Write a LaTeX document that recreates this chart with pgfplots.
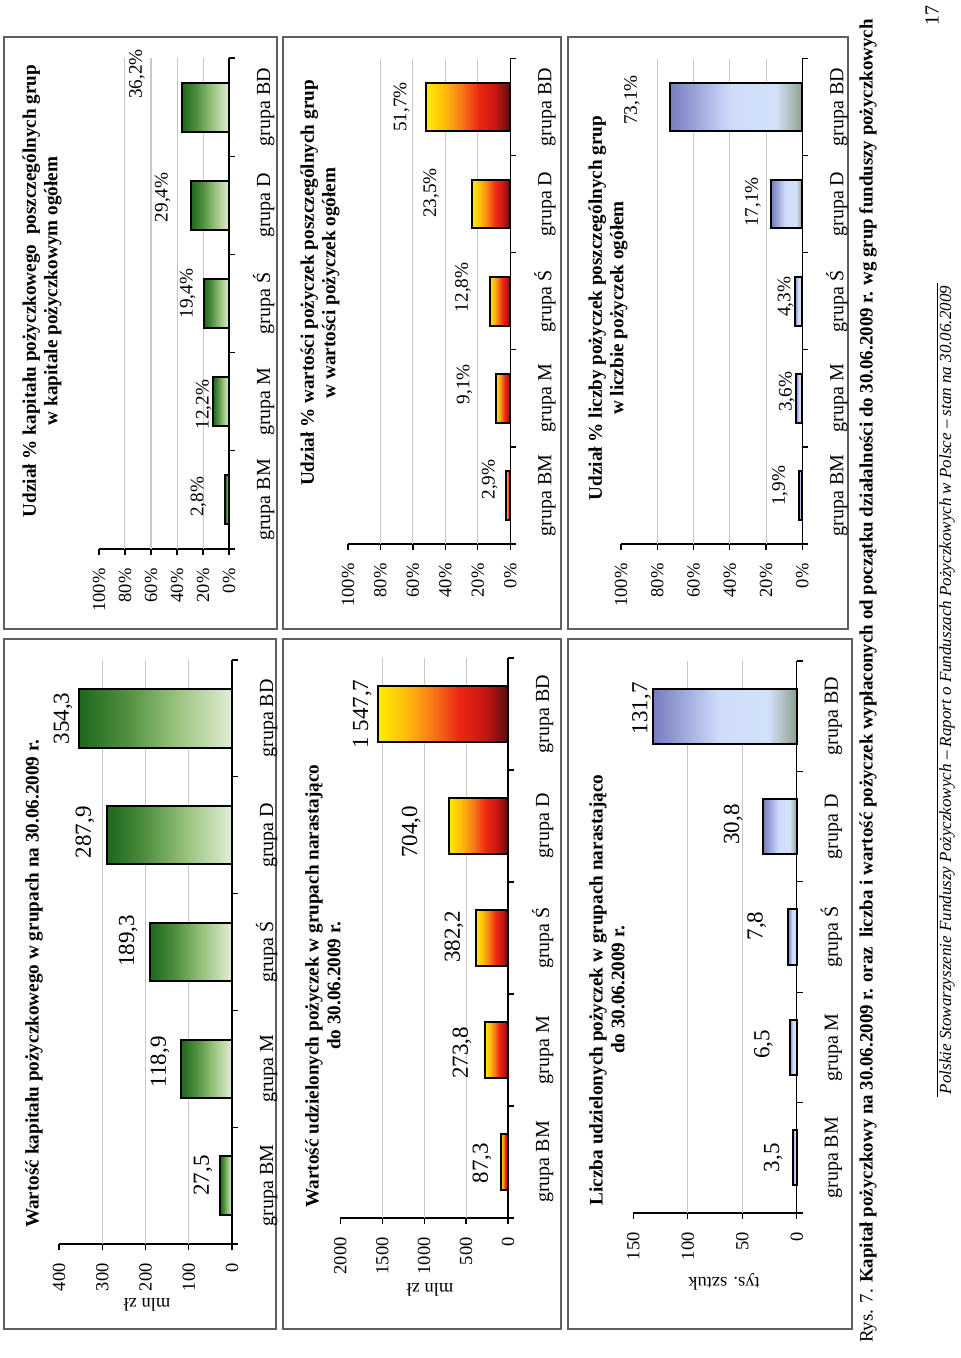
\documentclass[border=0pt]{standalone}
\usepackage{fontspec}
\setmainfont{Liberation Serif}
\usepackage{pgfplots}
\usepackage{pgfplotstable}
\pgfplotsset{compat=1.18}

\definecolor{framec}{RGB}{95,95,95}
\definecolor{gridc}{RGB}{200,200,200}
% green gradient
\definecolor{gA}{RGB}{28,104,28}
\definecolor{gB}{RGB}{78,142,62}
\definecolor{gC}{RGB}{150,192,122}
\definecolor{gD}{RGB}{226,237,213}
% red gradient
\definecolor{rA}{RGB}{255,236,0}
\definecolor{rB}{RGB}{253,186,12}
\definecolor{rC}{RGB}{247,120,22}
\definecolor{rD}{RGB}{238,40,20}
\definecolor{rE}{RGB}{200,22,20}
\definecolor{rF}{RGB}{90,14,14}
% blue gradient
\definecolor{bA}{RGB}{118,124,190}
\definecolor{bB}{RGB}{168,178,226}
\definecolor{bC}{RGB}{206,220,250}
\definecolor{bD}{RGB}{210,225,250}
\definecolor{bE}{RGB}{170,186,186}
\definecolor{bF}{RGB}{140,160,140}

\pgfdeclarehorizontalshading{greenbar}{100bp}{color(0bp)=(gA); color(25bp)=(gA); color(40bp)=(gB); color(56bp)=(gC); color(75bp)=(gD); color(100bp)=(gD)}
\pgfdeclarehorizontalshading{redbar}{100bp}{color(0bp)=(rA); color(25bp)=(rA); color(36bp)=(rB); color(46bp)=(rC); color(56bp)=(rD); color(66bp)=(rE); color(75bp)=(rF); color(100bp)=(rF)}
\pgfdeclarehorizontalshading{bluebar}{100bp}{color(0bp)=(bA); color(25bp)=(bA); color(38bp)=(bB); color(48bp)=(bC); color(65bp)=(bD); color(71bp)=(bE); color(75bp)=(bF); color(100bp)=(bF)}

\pgfplotsset{
  /pgf/number format/.cd, use comma, 1000 sep={}, assume math mode=true,
  /pgfplots/.cd,
  basechart/.style={
    xbar, bar shift=0pt, scale only axis, x dir=reverse, anchor=south west,
    xmin=0, ymin=-0.5, ymax=4.5,
    ytick={-0.5,0.5,1.5,2.5,3.5,4.5},
    y tick label as interval,
    yticklabels={grupa BM,grupa M,grupa Ś,grupa D,grupa BD},
    axis x line*=bottom, axis y line*=right,
    tick align=outside, major tick length=3pt,
    every tick/.style={black, line width=0.6pt},
    axis line style={black, line width=0.7pt},
    xticklabel style={rotate=90, anchor=east, font=\fontsize{9.25}{10}\selectfont, inner sep=1pt},
    yticklabel style={rotate=90, anchor=north, font=\fontsize{10}{11}\selectfont, inner sep=1pt, text height=1.6ex, text depth=0.5ex},
    xticklabel shift=5.5pt, yticklabel shift=9pt,
    bar width=0.5,
    extra x tick labels={},
    extra x tick style={grid=major},
    major grid style={gridc, line width=0.5pt},
    clip=false,
  },
  pctchart/.style={basechart, xmax=100, xtick={0,20,40,60,80,100},
    extra x ticks={20,40,60,80},
    xticklabel={\pgfmathprintnumber{\tick}\%}},
  absbars/.style={draw=black, line width=1pt, shade, shading=#1,
    point meta=x,
    nodes near coords={\pgfmathprintnumber[fixed,fixed zerofill,precision=1,1000 sep={\ }]{\pgfplotspointmeta}},
    visualization depends on={\thisrow{dx} \as \dx},
    visualization depends on={\thisrow{dy} \as \dy},
    every node near coord/.append style={anchor=center, xshift={(\dx)*0.5pt}, yshift={-1*(\dy)*0.5pt}, rotate=90, font=\fontsize{11.5}{12}\selectfont, text=black, inner sep=0pt}},
  pctbars/.style={draw=black, line width=1pt, shade, shading=#1,
    point meta=x,
    nodes near coords={\pgfmathprintnumber[fixed,fixed zerofill,precision=1]{\pgfplotspointmeta}\%},
    visualization depends on={\thisrow{dx} \as \dx},
    visualization depends on={\thisrow{dy} \as \dy},
    every node near coord/.append style={anchor=center, xshift={(\dx)*0.5pt}, yshift={-1*(\dy)*0.5pt}, rotate=90, font=\fontsize{9.6}{10}\selectfont, text=black, inner sep=0pt}},
}

% y: 0=grupa BM, 1=grupa M, 2=grupa Ś, 3=grupa D, 4=grupa BD ; dx, dy = label offset in px
\pgfplotstableread{
y v dx dy
0 27.5 -17 -10
1 118.9 -20.6 -7
2 189.3 -22 -11
3 287.9 -22.5 -3
4 354.3 -15.8 0
}\kapital
\pgfplotstableread{
y v dx dy
0 2.8 -27 -3
1 12.2 -9.5 3
2 19.4 -16 -10
3 29.4 -28 -8
4 36.2 -45 -33
}\kapitalpct
\pgfplotstableread{
y v dx dy
0 87.3 -18.7 1
1 273.8 -23 3
2 382.2 -22 -1
3 704.0 -37.7 6
4 1547.7 -16 0
}\wartosc
\pgfplotstableread{
y v dx dy
0 2.9 -16 -16
1 9.1 -31 -14
2 12.8 -26.5 -14
3 23.5 -41 -11
4 51.7 -25 0
}\wartoscpct
\pgfplotstableread{
y v dx dy
0 3.5 -19.6 0
1 6.5 -26 -3
2 7.8 -31.5 -11
3 30.8 -30 -2
4 131.7 -11.6 -8
}\liczba
\pgfplotstableread{
y v dx dy
0 1.9 -19 -9.5
1 3.6 -9 -6.4
2 4.3 -9 -4.3
3 17.1 -18.3 -2
4 73.1 -37.8 -7
}\liczbapct

\begin{document}
\begin{tikzpicture}[x=0.5pt,y=-0.5pt]
\fill[white] (0,0) rectangle (960,1358);
% panel frames
\begin{scope}[framec, line width=0.75pt]
\draw (4,37) rectangle (277,629);
\draw (283,37) rectangle (561,629);
\draw (568,37) rectangle (848,629);
\draw (4,639) rectangle (276,1329);
\draw (283,639) rectangle (561,1329);
\draw (568,639) rectangle (852,1329);
\end{scope}

\coordinate (a1) at (59,1244);
\coordinate (a2) at (340.3,1218);
\coordinate (a3) at (633.3,1213);
\coordinate (b1) at (99,549);
\coordinate (b2) at (348,544);
\coordinate (b3) at (621,544);

% ---- Wartość kapitału
\begin{axis}[basechart, at={(a1)}, width=86.5pt, height=292pt,
  xmax=400, xtick={0,100,200,300,400}, extra x ticks={100,200,300}]
\pgfplotsinvokeforeach{0,...,4}{
\addplot[absbars=greenbar, restrict y to domain=#1:#1] table[x=v,y=y]{\kapital};
}
\end{axis}
% ---- Wartość pożyczek
\begin{axis}[basechart, at={(a2)}, width=83.85pt, height=280pt,
  xmax=2000, xtick={0,500,1000,1500,2000}, extra x ticks={500,1000,1500}]
\pgfplotsinvokeforeach{0,...,4}{
\addplot[absbars=redbar, restrict y to domain=#1:#1] table[x=v,y=y]{\wartosc};
}
\end{axis}
% ---- Liczba pożyczek
\begin{axis}[basechart, at={(a3)}, width=81.7pt, height=276pt,
  xmax=150, xtick={0,50,100,150}, extra x ticks={50,100}]
\pgfplotsinvokeforeach{0,...,4}{
\addplot[absbars=bluebar, restrict y to domain=#1:#1] table[x=v,y=y]{\liczba};
}
\end{axis}
% ---- Udział kapitału
\begin{axis}[pctchart, at={(b1)}, width=65pt, height=245.5pt]
\pgfplotsinvokeforeach{0,...,4}{
\addplot[pctbars=greenbar, restrict y to domain=#1:#1] table[x=v,y=y]{\kapitalpct};
}
\end{axis}
% ---- Udział wartości
\begin{axis}[pctchart, at={(b2)}, width=81.15pt, height=242.75pt]
\pgfplotsinvokeforeach{0,...,4}{
\addplot[pctbars=redbar, restrict y to domain=#1:#1] table[x=v,y=y]{\wartoscpct};
}
\end{axis}
% ---- Udział liczby
\begin{axis}[pctchart, at={(b3)}, width=90.65pt, height=242.75pt]
\pgfplotsinvokeforeach{0,...,4}{
\addplot[pctbars=bluebar, restrict y to domain=#1:#1] table[x=v,y=y]{\liczbapct};
}
\end{axis}

% titles
\begin{scope}[every node/.style={rotate=90, align=center, font=\bfseries\fontsize{9.6}{10.8}\selectfont}]
\node at (34,984) {Wartość kapitału pożyczkowego w grupach na 30.06.2009 r.};
\node at (323,986) {Wartość udzielonych pożyczek w grupach narastająco\\do 30.06.2009 r.};
\node at (607,990) {Liczba udzielonych pożyczek w grupach narastająco\\do 30.06.2009 r.};
\node at (42,291) {Udział \% kapitału pożyczkowego\ \ poszczególnych grup\\w kapitale pożyczkowym ogółem};
\node at (320,283) {Udział \% wartości pożyczek poszczególnych grup\\w wartości pożyczek ogółem};
\node at (608,308) {Udział \% liczby pożyczek poszczególnych grup\\w liczbie pożyczek ogółem};
\end{scope}
% axis titles
\begin{scope}[every node/.style={rotate=180, font=\fontsize{9.25}{10}\selectfont}]
\node at (147,1305) {mln zł};
\node at (430,1290) {mln zł};
\node at (724,1282) {tys. sztuk};
\end{scope}
% caption and footer
\node[rotate=90, anchor=west, font=\fontsize{9.45}{10}\selectfont] at (868,1350)
  {Rys. 7. \textbf{Kapitał pożyczkowy na 30.06.2009 r. oraz\ \ liczba i wartość pożyczek wypłaconych od początku działalności do 30.06.2009 r. wg grup funduszy pożyczkowych}};
\draw[line width=0.5pt] (937,283) -- (937,1097);
\node[rotate=90, font=\itshape\fontsize{8.5}{9}\selectfont] at (947,690)
  {Polskie Stowarzyszenie Funduszy Pożyczkowych – Raport o Funduszach Pożyczkowych w Polsce – stan na 30.06.2009};
\node[rotate=90, font=\fontsize{10}{11}\selectfont] at (932,16) {17};

\pgfresetboundingbox
\path (0,0) rectangle (960,1358);
\end{tikzpicture}
\end{document}
